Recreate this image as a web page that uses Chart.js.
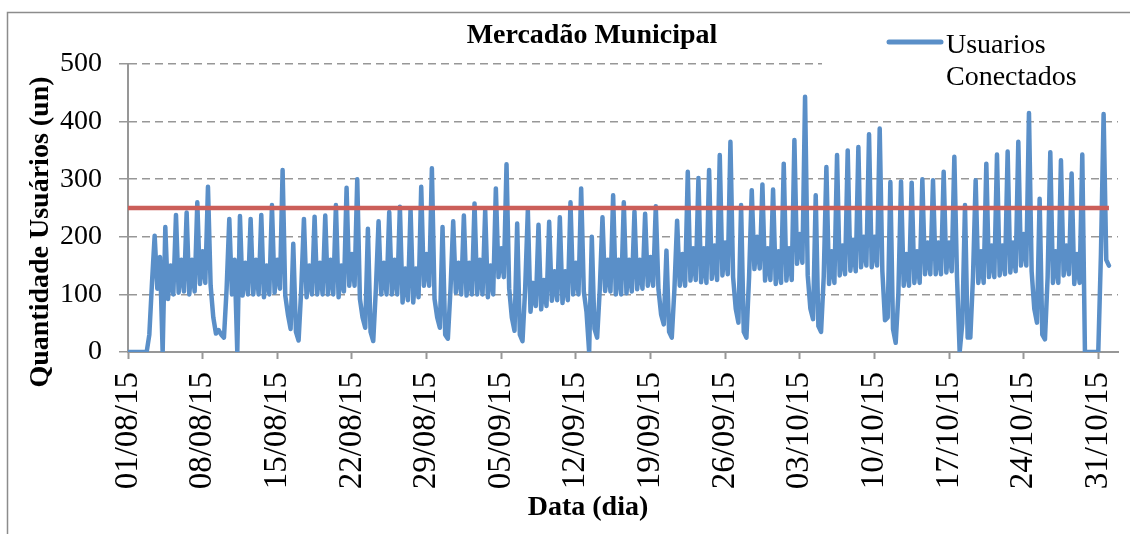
<!DOCTYPE html>
<html>
<head>
<meta charset="utf-8">
<script src="https://cdn.jsdelivr.net/npm/chart.js@4.4.1/dist/chart.umd.min.js"></script>
<style>
  html, body { margin: 0; padding: 0; background: #fff; }
  canvas { display: block; }
</style>
</head>
<body>
<canvas id="grafica" width="1130" height="534"></canvas>
<script>
// horas de cada leitura dentro do dia
const horas = [0, 6, 12, 18];

// usuarios conectados por dia: [00h, 06h, 12h, 18h]
const agosto = [
    [0, 0, 0, 0], [0, 0, 0, 0], [30, 120, 202, 110], [165, 0, 217, 92],
    [150, 100, 238, 103], [160, 105, 242, 100], [160, 105, 260, 118], [175, 120, 287, 115],
    [60, 32, 38, 30], [25, 110, 231, 100], [160, 0, 236, 98], [155, 100, 231, 100],
    [160, 100, 238, 95], [150, 100, 255, 103], [160, 110, 316, 98], [65, 40, 188, 35],
    [20, 110, 231, 95], [150, 100, 235, 100], [155, 100, 237, 100], [160, 100, 255, 95],
    [150, 105, 285, 115], [170, 115, 300, 92], [60, 42, 214, 35], [19, 110, 227, 100],
    [155, 100, 243, 100], [160, 100, 252, 86], [145, 90, 248, 86], [145, 95, 287, 115],
    [170, 115, 319, 92], [60, 42, 217, 30], [23, 110, 227, 103]
];
const setembro = [
    [155, 100, 237, 98], [155, 100, 258, 100], [160, 100, 246, 95], [150, 100, 284, 130],
    [180, 130, 326, 110], [60, 37, 223, 30], [19, 110, 246, 70], [120, 80, 221, 74],
    [125, 80, 226, 89], [140, 90, 234, 85], [140, 90, 260, 100], [155, 100, 284, 105],
    [70, 0, 200, 40], [25, 110, 234, 106], [160, 105, 272, 100], [160, 100, 260, 102],
    [160, 105, 244, 109], [160, 110, 240, 115], [165, 115, 253, 109], [65, 48, 176, 35],
    [25, 110, 228, 115], [170, 115, 313, 124], [180, 125, 302, 121], [180, 120, 316, 127],
    [185, 125, 342, 133], [190, 135, 365, 130], [75, 51, 255, 35], [25, 130, 281, 144],
    [200, 145, 291, 124], [180, 125, 282, 118]
];
const outubro = [
    [175, 120, 327, 124], [180, 125, 368, 153], [205, 155, 443, 133], [75, 57, 272, 45],
    [35, 130, 321, 118], [175, 120, 342, 133], [185, 135, 350, 141], [195, 140, 356, 147],
    [200, 150, 378, 147], [200, 150, 388, 140], [55, 60, 295, 40], [16, 100, 296, 115],
    [170, 115, 294, 120], [175, 120, 300, 135], [190, 135, 298, 135], [190, 135, 313, 138],
    [190, 140, 339, 130], [0, 50, 255, 25], [25, 130, 298, 120], [175, 120, 327, 130],
    [185, 130, 343, 133], [185, 135, 348, 138], [190, 140, 365, 150], [205, 150, 415, 140],
    [75, 51, 266, 30], [22, 130, 347, 120], [175, 120, 333, 133], [185, 135, 310, 118],
    [170, 120, 343, 0], [0, 0, 0, 0], [0, 170, 413, 160]
];
const novembro = [
    [150]
];

// limite de usuarios (linha vermelha)
const limite = 250;

// rotulos do eixo x (um por semana) e o dia correspondente
const diasRotulos = [0, 7, 14, 21, 28, 35, 42, 49, 56, 63, 70, 77, 84, 91];
const rotulosData = ['01/08/15', '08/08/15', '15/08/15', '22/08/15', '29/08/15', '05/09/15', '12/09/15',
    '19/09/15', '26/09/15', '03/10/15', '10/10/15', '17/10/15', '24/10/15', '31/10/15'];

const AZUL = '#5a8fc8';
const VERMELHO = '#cb5e59';
const CINZA = '#979797';
const FONTE = "'Liberation Serif', serif";

// montar serie a partir dos dias
const pontos = [];
[...agosto, ...setembro, ...outubro, ...novembro].forEach((dia, d) => {
    dia.forEach((v, h) => pontos.push({ x: d + horas[h] / 24, y: v }));
});
const xFim = pontos[pontos.length - 1].x;
const linhaLimite = [{ x: 0, y: limite }, { x: xFim, y: limite }];

// titulos, legenda e moldura
const decoracao = {
    id: 'decoracao',
    beforeDatasetsDraw(chart) {
        // a caixa da legenda esconde parte da grade de 500
        const ctx = chart.ctx;
        ctx.save();
        ctx.fillStyle = '#fff';
        ctx.fillRect(822, 58, 300, 12);
        ctx.restore();
    },
    afterDraw(chart) {
        const ctx = chart.ctx;
        ctx.save();
        // moldura
        ctx.strokeStyle = '#8c8c8c';
        ctx.lineWidth = 1.5;
        ctx.beginPath();
        ctx.moveTo(7.5, 534);
        ctx.lineTo(7.5, 12.5);
        ctx.lineTo(1130, 12.5);
        ctx.stroke();

        ctx.fillStyle = '#000';
        ctx.font = 'bold 28px ' + FONTE;
        ctx.textAlign = 'center';
        ctx.textBaseline = 'alphabetic';
        ctx.fillText('Mercadão Municipal', 592, 43);
        ctx.fillText('Data (dia)', 588, 515);

        ctx.save();
        ctx.translate(48, 232);
        ctx.rotate(-Math.PI / 2);
        ctx.fillText('Quantidade Usuários (un)', 0, 0);
        ctx.restore();

        // legenda
        ctx.strokeStyle = AZUL;
        ctx.lineWidth = 5;
        ctx.lineCap = 'round';
        ctx.beginPath();
        ctx.moveTo(889, 42);
        ctx.lineTo(941, 42);
        ctx.stroke();
        ctx.font = '28px ' + FONTE;
        ctx.textAlign = 'left';
        ctx.fillText('Usuarios', 946, 53);
        ctx.fillText('Conectados', 946, 85);
        ctx.restore();
    }
};

new Chart(document.getElementById('grafica'), {
    type: 'line',
    data: {
        datasets: [
            {
                label: 'Limite',
                data: linhaLimite,
                borderColor: VERMELHO,
                borderWidth: 4.5,
                pointRadius: 0,
                order: 0
            },
            {
                label: 'Usuarios Conectados',
                data: pontos,
                borderColor: AZUL,
                borderWidth: 4.5,
                borderJoinStyle: 'round',
                borderCapStyle: 'round',
                pointRadius: 0,
                tension: 0,
                order: 1
            }
        ]
    },
    options: {
        responsive: false,
        animation: false,
        layout: { padding: { top: 64, right: 12, left: 0, bottom: 0 } },
        plugins: {
            legend: { display: false },
            title: { display: false },
            tooltip: { enabled: false }
        },
        scales: {
            x: {
                type: 'linear',
                min: 0,
                max: 92.85,
                afterBuildTicks: (s) => { s.ticks = diasRotulos.map(v => ({ value: v })); },
                afterFit: (s) => {
                    s.height = 182;
                    s.paddingLeft = 0;
                    s.paddingRight = 0;
                },
                grid: { drawOnChartArea: false, color: CINZA, tickLength: 7, tickWidth: 2, tickColor: CINZA },
                border: { color: CINZA, width: 2 },
                ticks: {
                    autoSkip: false,
                    minRotation: 90,
                    maxRotation: 90,
                    padding: 13,
                    color: '#000',
                    font: { family: FONTE, size: 33 },
                    callback: (v) => {
                        const i = diasRotulos.indexOf(v);
                        return i >= 0 ? rotulosData[i] : '';
                    }
                }
            },
            y: {
                min: 0,
                max: 500,
                afterFit: (s) => { s.width = 128; },
                grid: { color: CINZA, lineWidth: 1.5, tickLength: 9, tickColor: CINZA, tickWidth: 1.5, tickBorderDash: [] },
                border: { color: CINZA, width: 2, dash: [8, 5] },
                ticks: {
                    stepSize: 50,
                    padding: 17,
                    color: '#000',
                    font: { family: FONTE, size: 28 }
                }
            }
        }
    },
    plugins: [decoracao]
});
</script>
</body>
</html>
